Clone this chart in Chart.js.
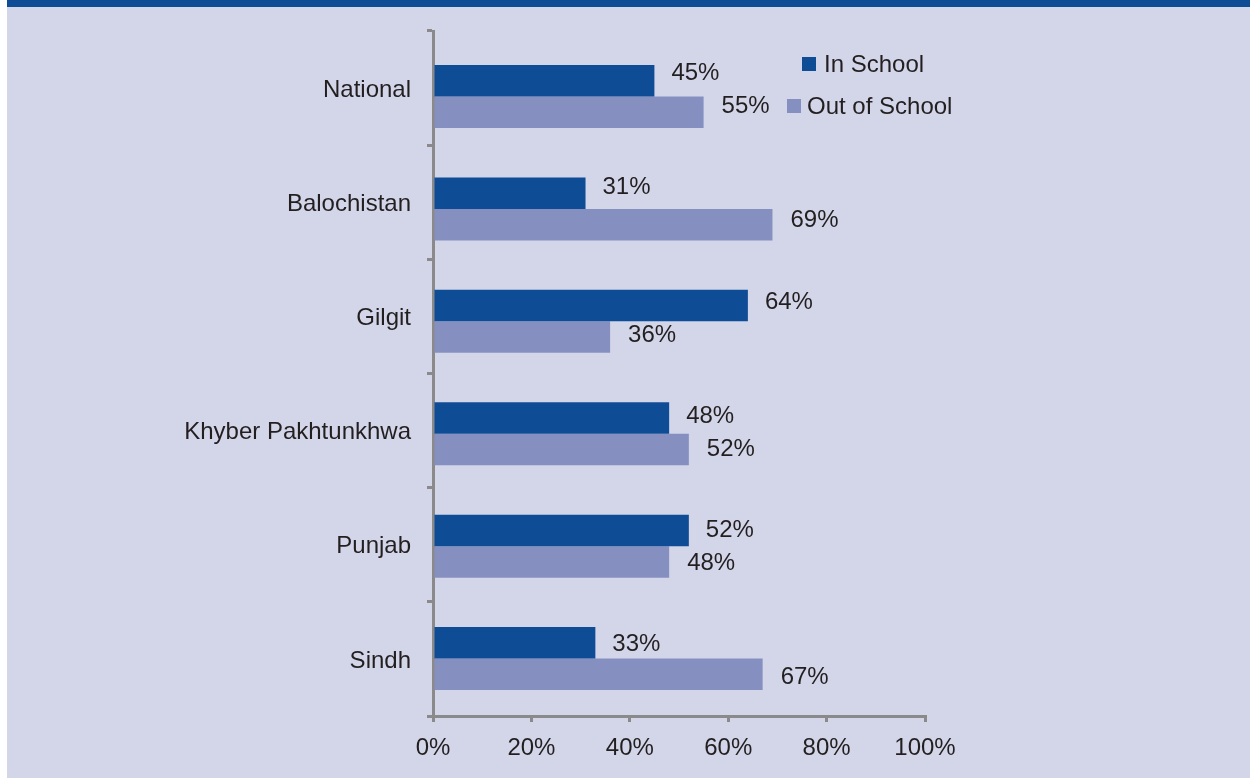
<!DOCTYPE html>
<html>
<head>
<meta charset="utf-8">
<script src="https://cdn.jsdelivr.net/npm/chart.js@4"></script>
<style>
  html, body { margin: 0; padding: 0; background: #ffffff; }
  #frame {
    position: absolute; left: 7px; top: 0; width: 1243px; height: 778px;
    background: #d3d6e9; border-top: 7px solid #0f4c96; box-sizing: border-box;
  }
  #wrap { position: absolute; left: 0; top: 0; width: 1250px; height: 778px; }
</style>
</head>
<body>
<div id="frame"></div>
<div id="wrap"><canvas id="chart" width="1250" height="778"></canvas></div>
<script>
const regions = ['National', 'Balochistan', 'Gilgit', 'Khyber Pakhtunkhwa', 'Punjab', 'Sindh'];
const inSchool = [45, 31, 64, 48, 52, 33];
const outOfSchool = [55, 69, 36, 52, 48, 67];
const seriesNames = ['In School', 'Out of School'];
const xTicks = [0, 20, 40, 60, 80, 100];

const DARK = '#0f4c96';
const LIGHT = '#8590c0';
const AXIS = '#8a8a8a';
const TEXT = '#231f20';
const FONT = '"Liberation Sans", Arial, sans-serif';

// Each region's bar pair sits on a hidden linear row axis (row index = position in regions)
const rowPoints = vals => vals.map((v, i) => ({ x: v, y: i }));

// Percentage labels past the bar ends, placed within each region's band
const valueLabels = {
  id: 'valueLabels',
  afterDatasetsDraw(chart) {
    const ctx = chart.ctx;
    const band = chart.scales.y;
    const rowShift = [-14.5, 18.5];
    const gap = [17, 18];
    ctx.save();
    ctx.font = '24px ' + FONT;
    ctx.fillStyle = TEXT;
    ctx.textAlign = 'left';
    ctx.textBaseline = 'middle';
    chart.data.datasets.forEach((ds, i) => {
      chart.getDatasetMeta(i).data.forEach((bar, j) => {
        ctx.fillText(ds.data[j].x + '%', bar.x + gap[i], band.getPixelForValue(j) + rowShift[i]);
      });
    });
    ctx.restore();
  }
};

// Two-row key in the upper right of the plot
const keyBox = {
  id: 'keyBox',
  afterDraw(chart) {
    const ctx = chart.ctx;
    const items = [
      { name: seriesNames[0], color: DARK, sx: 802, sy: 57, tx: 824, ty: 65 },
      { name: seriesNames[1], color: LIGHT, sx: 787, sy: 99, tx: 807, ty: 107 }
    ];
    ctx.save();
    ctx.font = '24px ' + FONT;
    ctx.textAlign = 'left';
    ctx.textBaseline = 'middle';
    items.forEach(it => {
      ctx.fillStyle = it.color;
      ctx.fillRect(it.sx, it.sy, 14, 14);
      ctx.fillStyle = TEXT;
      ctx.fillText(it.name, it.tx, it.ty);
    });
    ctx.restore();
  }
};

new Chart(document.getElementById('chart'), {
  type: 'bar',
  data: {
    labels: regions,
    datasets: [
      { label: seriesNames[0], data: rowPoints(inSchool), backgroundColor: DARK, yAxisID: 'rows' },
      { label: seriesNames[1], data: rowPoints(outOfSchool), backgroundColor: LIGHT, yAxisID: 'rows' }
    ]
  },
  options: {
    indexAxis: 'y',
    responsive: false,
    animation: false,
    devicePixelRatio: 1,
    layout: { padding: { left: 0, right: 325, top: 31, bottom: 0 } },
    datasets: { bar: { categoryPercentage: 0.56, barPercentage: 1.0 } },
    plugins: { legend: { display: false }, tooltip: { enabled: false } },
    scales: {
      x: {
        min: 0, max: 100,
        afterBuildTicks(scale) { scale.ticks = xTicks.map(v => ({ value: v })); },
        afterFit(scale) { scale.height = 62; },
        border: { display: true, color: AXIS, width: 3 },
        grid: { drawOnChartArea: false, drawTicks: true, tickLength: 6, tickColor: AXIS, lineWidth: 3 },
        ticks: {
          callback: v => v + '%',
          color: TEXT, font: { family: FONT, size: 24 }, padding: 12, maxRotation: 0
        }
      },
      y: {
        type: 'category',
        offset: true,
        afterFit(scale) { scale.width = 433; },
        border: { display: true, color: AXIS, width: 3 },
        grid: { drawOnChartArea: false, drawTicks: true, tickLength: 6, tickColor: AXIS, lineWidth: 3, offset: true },
        ticks: { color: TEXT, font: { family: FONT, size: 24 }, padding: 16, labelOffset: 2 }
      },
      rows: {
        type: 'linear',
        axis: 'y',
        display: false,
        reverse: true,
        offset: false,
        min: -0.583,
        max: 5.511,
        afterBuildTicks(scale) { scale.ticks = regions.map((_, i) => ({ value: i })); }
      }
    }
  },
  plugins: [valueLabels, keyBox]
});
</script>
</body>
</html>
